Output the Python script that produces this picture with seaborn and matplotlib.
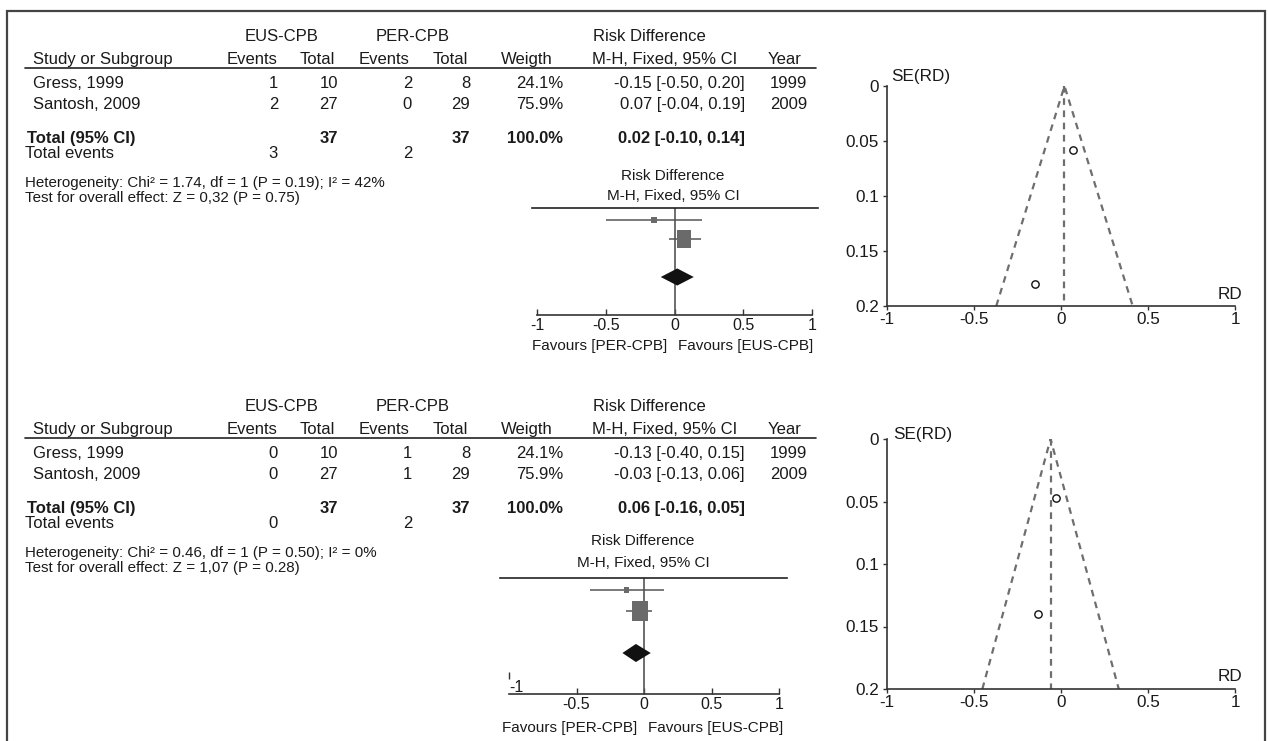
import numpy as np
import pandas as pd
import matplotlib
matplotlib.use("Agg")
import matplotlib.pyplot as plt
from matplotlib.markers import MarkerStyle
from matplotlib.patches import Rectangle
from matplotlib import font_manager
import seaborn as sns

# ---------------- data ----------------
studies = ["Gress, 1999", "Santosh, 2009"]
years = [1999, 2009]
weights = [24.1, 75.9]

# panel A
a_eus_events = [1, 2]
a_eus_total = [10, 27]
a_per_events = [2, 0]
a_per_total = [8, 29]
a_rd = [-0.15, 0.07]
a_lo = [-0.50, -0.04]
a_hi = [0.20, 0.19]
a_se = [0.18, 0.058]
a_pooled = [0.02, -0.10, 0.14]
a_ci_text = ["-0.15 [-0.50, 0.20]", "0.07 [-0.04, 0.19]"]
a_total_text = "0.02 [-0.10, 0.14]"
a_total_events = [3, 2]
a_het = "Heterogeneity: Chi² = 1.74, df = 1 (P = 0.19); I² = 42%"
a_test = "Test for overall effect: Z = 0,32 (P = 0.75)"

# panel B
b_eus_events = [0, 0]
b_eus_total = [10, 27]
b_per_events = [1, 1]
b_per_total = [8, 29]
b_rd = [-0.13, -0.03]
b_lo = [-0.40, -0.13]
b_hi = [0.15, 0.06]
b_se = [0.14, 0.047]
b_pooled = [-0.06, -0.16, 0.05]
b_ci_text = ["-0.13 [-0.40, 0.15]", "-0.03 [-0.13, 0.06]"]
b_total_text = "0.06 [-0.16, 0.05]"
b_total_events = [0, 2]
b_het = "Heterogeneity: Chi² = 0.46, df = 1 (P = 0.50); I² = 0%"
b_test = "Test for overall effect: Z = 1,07 (P = 0.28)"

group_totals = [37, 37]

forest_ticks = [-1, -0.5, 0, 0.5, 1]
forest_ticklabels = ["-1", "-0.5", "0", "0.5", "1"]
funnel_yticks = [0, 0.05, 0.1, 0.15, 0.2]
funnel_yticklabels = ["0", "0.05", "0.1", "0.15", "0.2"]

# ---------------- style ----------------
sns.set_style("white")
_names = {f.name for f in font_manager.fontManager.ttflist}
if "Liberation Sans Narrow" in _names:
    FONT, SC = "Liberation Sans Narrow", 1 / 0.84
else:
    FONT, SC = "Liberation Sans", 1.0
plt.rcParams["font.family"] = [FONT, "DejaVu Sans"]
plt.rcParams["axes.unicode_minus"] = False
TXT = "#1a1a1a"
AX = "#333333"

W, H = 1268, 741
fig = plt.figure(figsize=(W / 100, H / 100), dpi=100)
fig.patch.set_facecolor("white")


def ftxt(x, y, s, size=12, ha="left", weight="normal", color=TXT):
    size = size * SC
    yb = y + 0.358 * size * 100 / 72
    fig.text(x / W, 1 - yb / H, s, fontsize=size, ha=ha, va="baseline",
             fontweight=weight, color=color)


def ax_px(left, top, right, bottom):
    return fig.add_axes([left / W, 1 - bottom / H, (right - left) / W, (bottom - top) / H])


def hline_px(x0, x1, y, lw=1.2, color="#222222"):
    fig.add_artist(plt.Line2D([x0 / W, x1 / W], [1 - y / H, 1 - y / H],
                              transform=fig.transFigure, color=color, lw=lw))


# outer frame
fig.add_artist(Rectangle((7 / W, -0.02), (1265 - 7) / W, 1.02 - 11 / H,
                         transform=fig.transFigure, fill=False, lw=1.6, ec="#444444"))


def table(dy, eus_e, eus_t, per_e, per_t, ci_text, total_text, tot_ev, het, test):
    ftxt(282, 35 + dy, "EUS-CPB", ha="center")
    ftxt(413, 35 + dy, "PER-CPB", ha="center")
    ftxt(649, 35 + dy, "Risk Difference", ha="center")
    ftxt(33, 58 + dy, "Study or Subgroup")
    ftxt(278, 58 + dy, "Events", ha="right")
    ftxt(335, 58 + dy, "Total", ha="right")
    ftxt(410, 58 + dy, "Events", ha="right")
    ftxt(468, 58 + dy, "Total", ha="right")
    ftxt(553, 58 + dy, "Weigth", ha="right")
    ftxt(737, 58 + dy, "M-H, Fixed, 95% CI", ha="right")
    ftxt(802, 58 + dy, "Year", ha="right")
    hline_px(25, 816, 68 + dy)
    rows_y = [82 + dy, 103 + dy]
    for i, yy in enumerate(rows_y):
        ftxt(33, yy, studies[i])
        ftxt(278, yy, str(eus_e[i]), ha="right")
        ftxt(338, yy, str(eus_t[i]), ha="right")
        ftxt(412, yy, str(per_e[i]), ha="right")
        ftxt(470, yy, str(per_t[i]), ha="right")
        ftxt(563, yy, f"{weights[i]:.1f}%", ha="right")
        ftxt(745, yy, ci_text[i], ha="right")
        ftxt(807, yy, str(years[i]), ha="right")
    ty = 137 + dy
    ftxt(27, ty, "Total (95% CI)", weight="bold")
    ftxt(338, ty, str(group_totals[0]), ha="right", weight="bold")
    ftxt(470, ty, str(group_totals[1]), ha="right", weight="bold")
    ftxt(563, ty, f"{sum(weights):.1f}%", ha="right", weight="bold")
    ftxt(745, ty, total_text, ha="right", weight="bold")
    ey = 152 + dy
    ftxt(25, ey, "Total events")
    ftxt(278, ey, str(tot_ev[0]), ha="right")
    ftxt(412, ey, str(tot_ev[1]), ha="right")
    ftxt(25, 182 + dy, het, size=10.9)
    ftxt(25, 197 + dy, test, size=10.9)


table(0, a_eus_events, a_eus_total, a_per_events, a_per_total, a_ci_text, a_total_text,
      a_total_events, a_het, a_test)
table(370, b_eus_events, b_eus_total, b_per_events, b_per_total, b_ci_text, b_total_text,
      b_total_events, b_het, b_test)

box_marker = MarkerStyle([(-0.39, -0.5), (0.39, -0.5), (0.39, 0.5), (-0.39, 0.5), (-0.39, -0.5)])


def forest(box, xlim, ylim, rd, lo, hi, pooled, sizes, dh, ticks, ticklabels):
    ax = ax_px(*box)
    ax.set_facecolor("none")
    df = pd.DataFrame({"rd": rd, "lo": lo, "hi": hi, "w": weights, "row": [0, 1]})
    ax.hlines(df["row"], df["lo"], df["hi"], color="#555555", lw=1.1, zorder=2)
    ax.axvline(0, color="#555555", lw=1.2, zorder=1)
    sns.scatterplot(data=df, x="rd", y="row", size="w", sizes=sizes, marker=box_marker,
                    color="#6a6a6a", edgecolor="none", linewidth=0, legend=False, ax=ax, zorder=3)
    est, plo, phi = pooled
    trow = 3
    ax.fill([plo, est, phi, est], [trow, trow - dh, trow, trow + dh], color="#111111", zorder=4, lw=0)
    ax.set_xlim(*xlim)
    ax.set_ylim(*ylim)
    ax.set_xlabel("")
    ax.set_ylabel("")
    ax.set_yticks([])
    for s in ["left", "right"]:
        ax.spines[s].set_visible(False)
    ax.spines["top"].set_color("#222222")
    ax.spines["top"].set_linewidth(1.2)
    ax.spines["bottom"].set_color(AX)
    ax.spines["bottom"].set_linewidth(1.2)
    ax.spines["bottom"].set_bounds(-1, 1)
    ax.set_xticks(ticks)
    ax.set_xticklabels(ticklabels)
    ax.tick_params(axis="x", direction="in", length=4, width=1, color=AX, labelsize=11.5 * SC,
                   pad=2, labelcolor=TXT, bottom=True)
    return ax


# top forest
forest((532, 208, 818, 315), ((532 - 674.5) / 137.5, (818 - 674.5) / 137.5),
       ((315 - 220) / 19, (208 - 220) / 19), a_rd, a_lo, a_hi, a_pooled, (25, 150), 0.45,
       forest_ticks, forest_ticklabels)
ftxt(673, 175, "Risk Difference", size=11, ha="center")
ftxt(673, 195, "M-H, Fixed, 95% CI", size=11, ha="center")
ftxt(667, 345, "Favours [PER-CPB]", size=11, ha="right")
ftxt(678, 345, "Favours [EUS-CPB]", size=11, ha="left")

# bottom forest
axb = forest((500, 578, 787, 694), ((500 - 644) / 135, (787 - 644) / 135),
             ((694 - 590) / 21, (578 - 590) / 21), b_rd, b_lo, b_hi, b_pooled, (25, 207), 0.43,
             forest_ticks[1:], forest_ticklabels[1:])
axb.vlines(forest_ticks[0], 3.9, 4.25, color=AX, lw=1)
axb.text(forest_ticks[0], 4.65, forest_ticklabels[0], fontsize=11.5 * SC, ha="left", va="center",
         color=TXT)
ftxt(643, 540, "Risk Difference", size=11, ha="center")
ftxt(643, 562, "M-H, Fixed, 95% CI", size=11, ha="center")
ftxt(637, 727, "Favours [PER-CPB]", size=11, ha="right")
ftxt(648, 727, "Favours [EUS-CPB]", size=11, ha="left")


def funnel(box, rd, se, center):
    ax = ax_px(*box)
    ax.set_facecolor("none")
    se_max = funnel_yticks[-1]
    ax.plot([center - 1.96 * se_max, center, center + 1.96 * se_max], [se_max, 0, se_max],
            color="#6e6e6e", lw=1.6, ls=(0, (3, 2.5)), zorder=1)
    ax.plot([center, center], [0, se_max], color="#6e6e6e", lw=1.6, ls=(0, (3, 2.5)), zorder=1)
    df = pd.DataFrame({"rd": rd, "se": se})
    sns.scatterplot(data=df, x="rd", y="se", marker="o", s=28, facecolor="white",
                    edgecolor="#111111", linewidth=1, legend=False, ax=ax, zorder=3)
    ax.set_xlim(-1, 1)
    ax.set_ylim(se_max, 0)
    ax.set_xlabel("")
    ax.set_ylabel("")
    ax.set_xticks(forest_ticks)
    ax.set_xticklabels(forest_ticklabels)
    ax.set_yticks(funnel_yticks)
    ax.set_yticklabels(funnel_yticklabels)
    for s in ["top", "right"]:
        ax.spines[s].set_visible(False)
    for s in ["left", "bottom"]:
        ax.spines[s].set_color(AX)
        ax.spines[s].set_linewidth(1.2)
    ax.tick_params(axis="both", direction="out", length=3, width=1, color=AX, labelsize=12.3 * SC,
                   labelcolor=TXT, left=True, bottom=True)
    ax.tick_params(axis="y", pad=3)
    ax.tick_params(axis="x", pad=1)
    return ax


funnel((887, 86, 1235, 306), a_rd, a_se, a_pooled[0])
ftxt(891, 75, "SE(RD)", size=12.3)
ftxt(1242, 293, "RD", size=12.3, ha="right")
funnel((887, 439, 1235, 689), b_rd, b_se, b_pooled[0])
ftxt(893, 433, "SE(RD)", size=12.3)
ftxt(1242, 675, "RD", size=12.3, ha="right")

fig.savefig("out.png", dpi=100, facecolor="white")
